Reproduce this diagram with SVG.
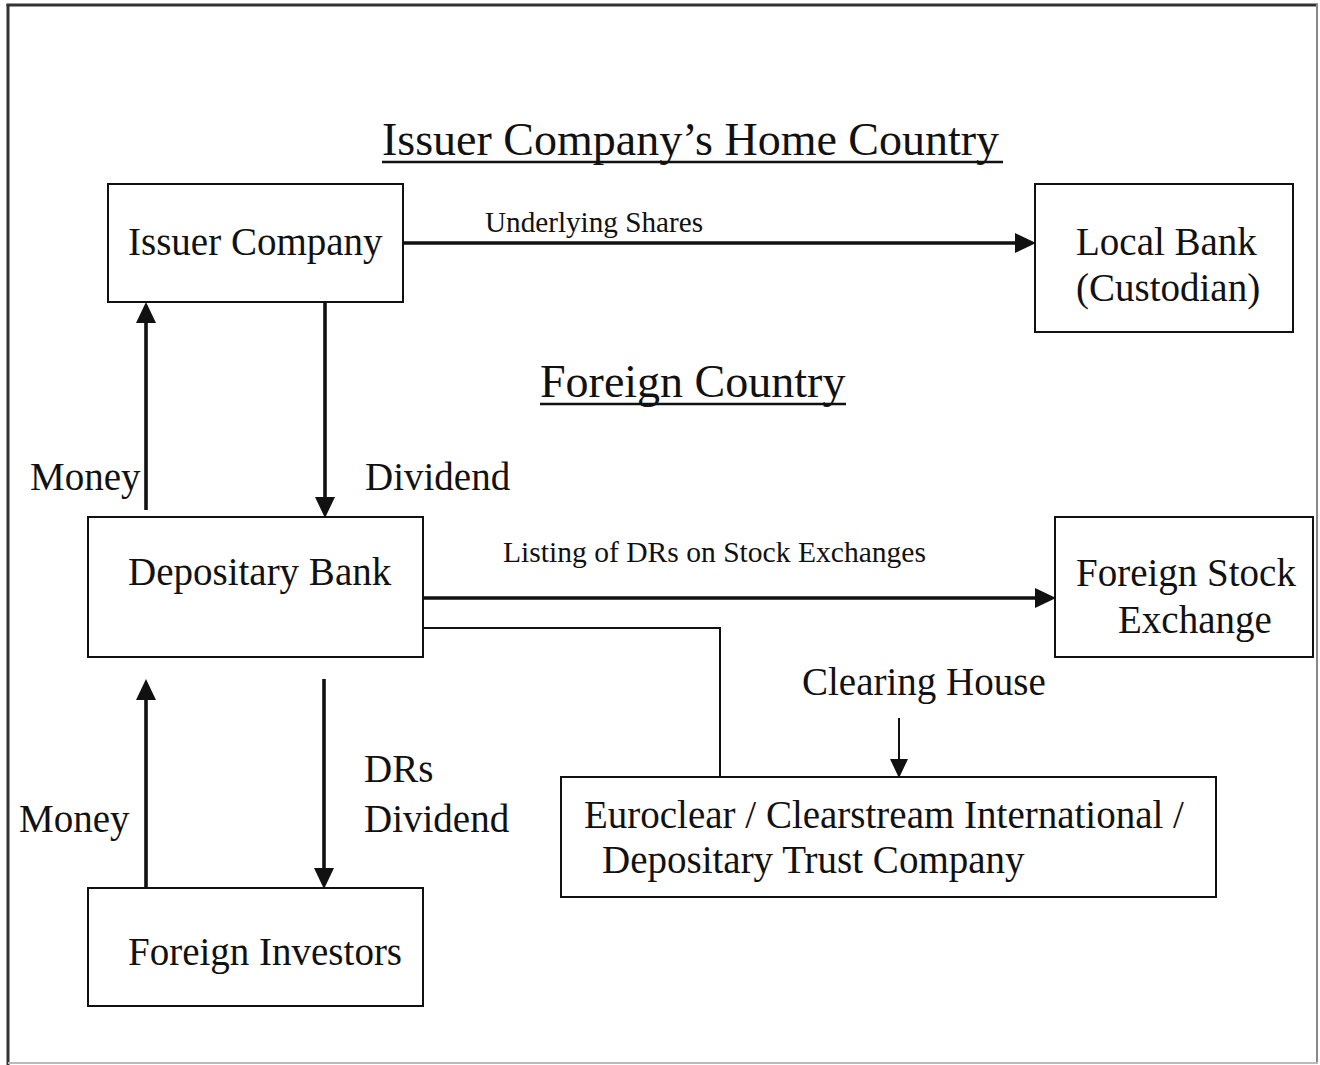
<svg xmlns="http://www.w3.org/2000/svg" width="1320" height="1065" viewBox="0 0 1320 1065">
  <style>
    .box { fill: #fff; stroke: #111; stroke-width: 2; }
    .lbl { font-family: "Liberation Serif", "Times New Roman", serif; font-size: 39px; fill: #111; }
    .small { font-family: "Liberation Serif", "Times New Roman", serif; font-size: 29px; fill: #111; }
    .title { font-family: "Liberation Serif", "Times New Roman", serif; font-size: 46px; fill: #111; }
    .thick { stroke: #111; stroke-width: 3.6; fill: none; }
    .thin { stroke: #111; stroke-width: 2; fill: none; }
  </style>
  <defs>
    <marker id="head" markerUnits="userSpaceOnUse" markerWidth="24" markerHeight="22" refX="10" refY="10" orient="auto">
      <path d="M0,0 L21,10 L0,20 Z" fill="#111"/>
    </marker>
    <marker id="headThin" markerUnits="userSpaceOnUse" markerWidth="22" markerHeight="22" refX="9" refY="9" orient="auto">
      <path d="M0,0 L19,9 L0,18 Z" fill="#111"/>
    </marker>
  </defs>

  <rect width="1320" height="1065" fill="#fff"/>

  <!-- page frame -->
  <g id="frame">
    <line x1="6.5" y1="5" x2="1318" y2="5" stroke="#333" stroke-width="3"/>
    <line x1="8" y1="4" x2="8" y2="1065" stroke="#333" stroke-width="3"/>
    <line x1="1317" y1="4" x2="1317" y2="1063" stroke="#888" stroke-width="2"/>
    <line x1="8" y1="1063" x2="1318" y2="1063" stroke="#bbb" stroke-width="2"/>
  </g>

  <!-- region headings -->
  <g id="heading-home">
    <text class="title" x="382" y="155">Issuer Company’s Home Country</text>
    <line x1="382" y1="162" x2="1003" y2="162" stroke="#111" stroke-width="2.5"/>
  </g>
  <g id="heading-foreign">
    <text class="title" x="540" y="397">Foreign Country</text>
    <line x1="540" y1="404" x2="846" y2="404" stroke="#111" stroke-width="2.5"/>
  </g>

  <!-- connectors -->
  <g id="connectors">
    <line class="thick" x1="403" y1="243" x2="1025" y2="243" marker-end="url(#head)"/>
    <line class="thick" x1="325" y1="302" x2="325" y2="507" marker-end="url(#head)"/>
    <line class="thick" x1="146" y1="510" x2="146" y2="313" marker-end="url(#head)"/>
    <line class="thick" x1="146" y1="888" x2="146" y2="690" marker-end="url(#head)"/>
    <line class="thick" x1="324" y1="679" x2="324" y2="878" marker-end="url(#head)"/>
    <line class="thick" x1="423" y1="598" x2="1045" y2="598" marker-end="url(#head)"/>
    <polyline class="thin" points="423,628 720,628 720,777"/>
    <line class="thin" x1="899" y1="718" x2="899" y2="768" marker-end="url(#headThin)"/>

    <text class="small" x="485" y="232" textLength="218" lengthAdjust="spacingAndGlyphs">Underlying Shares</text>
    <text class="small" x="503" y="562" textLength="423" lengthAdjust="spacingAndGlyphs">Listing of DRs on Stock Exchanges</text>
    <text class="lbl" x="30" y="490">Money</text>
    <text class="lbl" x="365" y="490">Dividend</text>
    <text class="lbl" x="19" y="832">Money</text>
    <text class="lbl" x="364" y="782">DRs</text>
    <text class="lbl" x="364" y="832">Dividend</text>
    <text class="lbl" x="802" y="695">Clearing House</text>
  </g>

  <!-- nodes -->
  <g id="issuer-company">
    <rect class="box" x="108" y="184" width="295" height="118"/>
    <text class="lbl" x="128" y="255">Issuer Company</text>
  </g>
  <g id="local-bank">
    <rect class="box" x="1035" y="184" width="258" height="148"/>
    <text class="lbl" x="1076" y="255">Local Bank</text>
    <text class="lbl" x="1076" y="301">(Custodian)</text>
  </g>
  <g id="depositary-bank">
    <rect class="box" x="88" y="517" width="335" height="140"/>
    <text class="lbl" x="128" y="585">Depositary Bank</text>
  </g>
  <g id="foreign-stock-exchange">
    <rect class="box" x="1055" y="517" width="258" height="140"/>
    <text class="lbl" x="1076" y="586">Foreign Stock</text>
    <text class="lbl" x="1118" y="633">Exchange</text>
  </g>
  <g id="foreign-investors">
    <rect class="box" x="88" y="888" width="335" height="118"/>
    <text class="lbl" x="128" y="965">Foreign Investors</text>
  </g>
  <g id="clearing-systems">
    <rect class="box" x="561" y="777" width="655" height="120"/>
    <text class="lbl" x="584" y="828">Euroclear / Clearstream International /</text>
    <text class="lbl" x="602" y="873">Depositary Trust Company</text>
  </g>
</svg>
